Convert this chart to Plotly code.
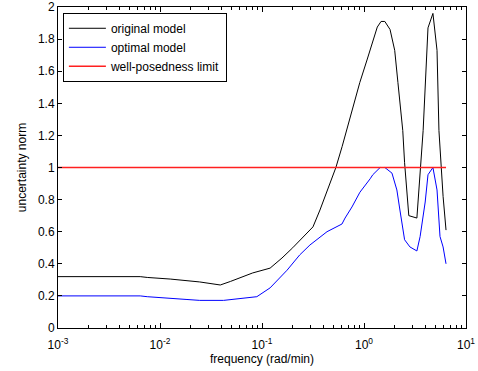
import plotly.graph_objects as go

# frequency (rad/min)
freq_original = [0.001, 0.0064, 0.0075, 0.0126, 0.0245, 0.039, 0.049, 0.081, 0.12, 0.157,
                 0.2, 0.316, 0.37, 0.44, 0.53, 0.61, 0.68, 0.91, 1.07, 1.35, 1.47, 1.6,
                 1.8, 2.0, 2.15, 2.4, 2.5, 2.75, 3.3, 3.55, 3.8, 4.24, 4.74, 5.2, 5.43,
                 5.96, 6.37]
original_model = [0.32, 0.32, 0.315, 0.305, 0.287, 0.268, 0.29, 0.343, 0.373, 0.436,
                  0.50, 0.63, 0.735, 0.86, 1.0, 1.13, 1.24, 1.53, 1.67, 1.875, 1.91, 1.91,
                  1.86, 1.73, 1.53, 1.23, 1.03, 0.70, 0.685, 0.965, 1.23, 1.87, 1.96, 1.73,
                  1.23, 0.82, 0.61]

freq_optimal = [0.001, 0.0064, 0.0075, 0.0107, 0.018, 0.0245, 0.042, 0.089, 0.12, 0.176,
                0.234, 0.295, 0.434, 0.608, 0.652, 0.762, 0.912, 1.15, 1.22, 1.44, 1.6,
                1.88, 2.1, 2.25, 2.5, 2.82, 3.3, 3.55, 3.98, 4.24, 4.74, 5.2, 5.56, 5.96,
                6.37]
optimal_model = [0.20, 0.20, 0.195, 0.19, 0.178, 0.172, 0.172, 0.195, 0.25, 0.36,
                 0.455, 0.517, 0.6, 0.648, 0.685, 0.754, 0.846, 0.93, 0.955, 1.0, 1.0,
                 0.965, 0.86, 0.735, 0.55, 0.505, 0.48, 0.57, 0.785, 0.955, 1.0, 0.86,
                 0.57, 0.505, 0.40]

freq_limit = [0.001, 6.37]
wellposed_limit = [1, 1]

x_tickvals = [0.001, 0.01, 0.1, 1, 10]
x_ticktext = ["10<sup>-3</sup>", "10<sup>-2</sup>", "10<sup>-1</sup>", "10<sup>0</sup>", "10<sup>1</sup>"]
y_tickvals = [0, 0.2, 0.4, 0.6, 0.8, 1, 1.2, 1.4, 1.6, 1.8, 2]
y_ticktext = ["0", "0.2", "0.4", "0.6", "0.8", "1", "1.2", "1.4", "1.6", "1.8", "2"]

fig = go.Figure()
fig.add_trace(go.Scatter(x=freq_original, y=original_model, mode="lines",
                         line=dict(color="#000000", width=1), name="original model"))
fig.add_trace(go.Scatter(x=freq_optimal, y=optimal_model, mode="lines",
                         line=dict(color="#0000ff", width=1), name="optimal model"))
fig.add_trace(go.Scatter(x=freq_limit, y=wellposed_limit, mode="lines",
                         line=dict(color="#ff2020", width=1.5), name="well-posedness limit"))

font = "Liberation Sans, Arial, sans-serif"
fig.update_layout(
    width=478, height=371,
    margin=dict(l=58, r=12, t=7, b=43, autoexpand=False),
    paper_bgcolor="white", plot_bgcolor="white",
    font=dict(family=font, size=12, color="#000000"),
    showlegend=True,
    legend=dict(x=0.012, y=0.982, xanchor="left", yanchor="top",
                bgcolor="white", bordercolor="#000000", borderwidth=1,
                font=dict(size=12), itemwidth=37, tracegroupgap=0),
    xaxis=dict(type="log", range=[-3, 1], tickvals=x_tickvals, ticktext=x_ticktext,
               ticks="inside", ticklen=5, tickcolor="#000000", automargin=False,
               ticklabelstandoff=6,
               showline=True, linecolor="#000000", linewidth=1, mirror="ticks",
               showgrid=False, zeroline=False,
               minor=dict(ticks="inside", ticklen=3, tickcolor="#000000", dtick="D1", showgrid=False),
               title=dict(text="frequency (rad/min)", standoff=2, font=dict(size=12))),
    yaxis=dict(range=[0, 2], tickvals=y_tickvals, ticktext=y_ticktext,
               ticks="inside", ticklen=4, tickcolor="#000000", automargin=False,
               showline=True, linecolor="#000000", linewidth=1, mirror="ticks",
               showgrid=False, zeroline=False,
               title=dict(text="uncertainty norm", standoff=8, font=dict(size=12))),
)

fig.write_html("out.html", config={"displayModeBar": False},
               post_script="document.body.style.margin='0px';")
